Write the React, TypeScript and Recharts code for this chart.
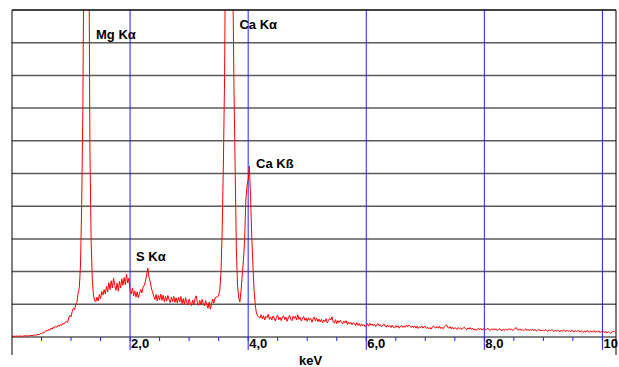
import React from 'react';
import { LineChart, Line, XAxis, YAxis, CartesianGrid, ReferenceLine, ReferenceDot } from 'recharts';

const CHANNEL_KEV = 0.02;
const X_MAX = 10.23;

// counts per 20 eV channel
const lowEnergyCounts = [
  2, 2, 3, 2, 3, 2, 3, 3, 2, 3,
  3, 4, 3, 4, 3, 4, 5, 4, 5, 6,
  5, 7, 8, 7, 11, 10, 14, 12, 17, 20,
  18, 23, 21, 27, 24, 31, 28, 33, 30, 36,
  33, 38, 35, 42, 39, 45, 48, 44, 58, 66,
  62, 78, 88, 84, 100, 106,
];
const mgPeakCounts = [135, 150, 220, 404, 694, 1250, 2100, 2600, 2300, 1300, 572, 297, 174, 128, 110];
const midCounts = [
  108, 122, 110, 130, 117, 139, 128, 145, 132, 155,
  138, 166, 145, 172, 150, 180, 158, 143, 165, 140,
  170, 150, 178, 158, 182, 160, 192, 165, 180, 140,
  132, 150, 126, 141, 122, 138, 120, 134, 145, 135,
  152, 158, 170, 190, 211, 182, 170, 150, 138, 125,
  115, 130, 110, 127, 113, 131, 112, 128, 108, 124,
  110, 127, 114, 105, 122, 108, 124, 106, 120, 104,
  121, 107, 124, 102, 117, 100, 120, 105, 98, 116,
  103, 96, 113, 99, 117, 126, 105, 97, 112, 99,
  115, 101, 95, 111, 98, 88, 107, 85, 102, 116,
  104, 120, 122,
];
const caPeakCounts = [
  122, 128, 144, 199, 327, 526, 786, 1300, 2200, 2800,
  3000, 2700, 2000, 1100, 755, 511, 266, 159, 119, 107,
  144, 190, 235, 297, 419, 462, 480, 523, 430, 312,
  220, 144, 98, 73, 64, 61,
];
const tailCounts = [
  58, 68, 55, 65, 52, 63, 59, 70, 54, 61,
  52, 64, 58, 49, 62, 67, 53, 60, 50, 61,
  65, 53, 61, 48, 59, 66, 55, 50, 63, 57,
  64, 52, 68, 54, 60, 49, 57, 63, 51, 58,
  48, 59, 51, 57, 45, 55, 61, 49, 58, 47,
  55, 46, 54, 44, 52, 47, 56, 43, 50, 57,
  52, 62, 46, 43, 53, 41, 50, 44, 51, 45,
  40, 49, 43, 50, 38, 46, 40, 45, 37, 44,
  42, 35, 44, 36, 41, 33, 40, 34, 38, 31,
  35, 41, 33, 42, 36, 40, 34, 39, 32, 38,
  41, 34, 38, 31, 37, 40, 33, 30, 37, 31,
  35, 29, 36, 30, 28, 35, 30, 34, 27, 33,
  35, 29, 34, 30, 36, 31, 37, 33, 29, 34,
  29, 34, 27, 33, 26, 31, 29, 34, 27, 31,
  33, 26, 30, 25, 29, 24, 31, 34, 29, 27,
  32, 27, 33, 26, 30, 25, 31, 34, 37, 29,
  27, 32, 25, 30, 24, 29, 26, 23, 29, 25,
  28, 23, 27, 30, 25, 22, 28, 24, 29, 23,
  27, 21, 25, 20, 24, 27, 22, 26, 21, 24,
  26, 21, 24, 27, 22, 20, 25, 21, 26, 22,
  25, 20, 23, 26, 21, 19, 24, 20, 25, 21,
  22, 26, 21, 25, 20, 23, 26, 29, 22, 21,
  25, 20, 23, 19, 22, 25, 20, 24, 19, 22,
  20, 24, 19, 23, 18, 21, 24, 19, 22, 18,
  22, 18, 23, 19, 17, 22, 18, 23, 20, 17,
  21, 17, 22, 18, 16, 21, 17, 22, 19, 16,
  21, 17, 20, 16, 21, 18, 15, 20, 16, 19,
  19, 15, 20, 16, 14, 19, 15, 20, 17, 14,
  19, 15, 17, 20, 14, 18, 15, 19, 13, 17,
  15, 18, 13, 17, 12, 16, 14, 11, 15, 17,
  17, 14,
];

const yTicks = [0, 100, 200, 300, 400, 500, 600, 700, 800, 900, 1000];
const minorTicks = [0.5, 1, 1.5, 2, 2.5, 3, 3.5, 4, 4.5, 5, 5.5, 6, 6.5, 7, 7.5, 8, 8.5, 9, 9.5, 10];
const majorTicks = [2, 4, 6, 8, 10];
const majorTickLabels = ['2,0', '4,0', '6,0', '8,0', '10'];

const peakLabels = [
  { name: 'Mg Kα', keV: 1.423, counts: 910 },
  { name: 'Ca Kα', keV: 3.853, counts: 943 },
  { name: 'Ca Kß', keV: 4.133, counts: 517 },
  { name: 'S Kα', keV: 2.1, counts: 231 },
];

const spectrum = [...lowEnergyCounts, ...mgPeakCounts, ...midCounts, ...caPeakCounts, ...tailCounts].map(
  (counts, i) => ({ keV: Number((i * CHANNEL_KEV).toFixed(2)), counts })
);

const FONT = "'Liberation Sans', Arial, sans-serif";
const BLUE = '#2020ff';

const AxisTick = ({ x, y, payload }: any) => {
  const idx = majorTicks.indexOf(payload.value);
  if (idx < 0) return <g />;
  return (
    <text x={x + 1} y={y + 7} fontFamily={FONT} fontSize={13} fontWeight="bold" fill="#000">
      {majorTickLabels[idx]}
    </text>
  );
};

const AxisTitle = ({ viewBox, value }: any) => (
  <text
    x={viewBox.x + viewBox.width / 2 - 3.5}
    y={viewBox.y + 28}
    textAnchor="middle"
    fontFamily={FONT}
    fontSize={13}
    fontWeight="bold"
    fill="#000"
  >
    {value}
  </text>
);

const PeakLabel = ({ viewBox, value }: any) => (
  <text x={viewBox.x} y={viewBox.y} fontFamily={FONT} fontSize={13} fontWeight="bold" fill="#000">
    {value}
  </text>
);

export default function App() {
  return (
    <div style={{ position: 'absolute', left: 0, top: 0, background: '#fff' }}>
      <LineChart width={619} height={367} data={spectrum} margin={{ top: 10, right: 3, bottom: 0, left: 12 }}>
        <CartesianGrid vertical={false} stroke="#5a5a5a" strokeWidth={1.5} />
        <YAxis hide width={0} type="number" domain={[0, 1000]} ticks={yTicks} allowDataOverflow />
        <XAxis
          dataKey="keV"
          type="number"
          domain={[0, X_MAX]}
          ticks={minorTicks}
          interval={0}
          height={30}
          tickSize={4}
          tickMargin={0}
          axisLine={false}
          tickLine={{ stroke: BLUE }}
          tick={AxisTick}
          allowDataOverflow
          label={{ value: 'keV', content: AxisTitle }}
        />
        {majorTicks.map((t) => (
          <ReferenceLine
            key={t}
            segment={[{ x: t, y: -40 }, { x: t, y: 1000 }]}
            stroke={BLUE}
            strokeWidth={1}
            ifOverflow="visible"
          />
        ))}
        <Line
          type="linear"
          dataKey="counts"
          stroke="#ff0000"
          strokeWidth={1}
          dot={false}
          isAnimationActive={false}
        />
        <ReferenceLine segment={[{ x: 0, y: -55 }, { x: 0, y: 1000 }]} stroke="#000" ifOverflow="visible" />
        <ReferenceLine segment={[{ x: X_MAX, y: -55 }, { x: X_MAX, y: 1000 }]} stroke="#000" ifOverflow="visible" />
        <ReferenceLine y={1000} stroke="#000" ifOverflow="visible" />
        {peakLabels.map((p) => (
          <ReferenceDot
            key={p.name}
            x={p.keV}
            y={p.counts}
            r={0}
            fill="none"
            stroke="none"
            ifOverflow="visible"
            label={{ value: p.name, content: PeakLabel }}
          />
        ))}
      </LineChart>
    </div>
  );
}
